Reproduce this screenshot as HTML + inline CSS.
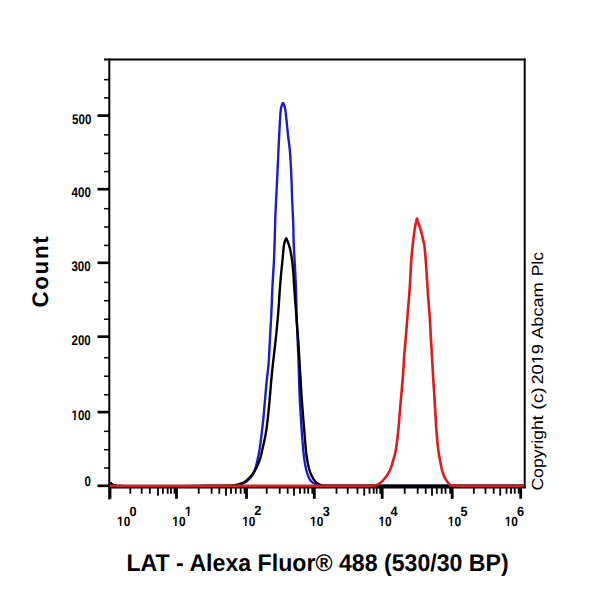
<!DOCTYPE html>
<html><head><meta charset="utf-8"><title>LAT - Alexa Fluor 488 histogram</title>
<style>html,body{margin:0;padding:0;background:#fff;}body{width:600px;height:600px;overflow:hidden;font-family:"Liberation Sans",sans-serif;}svg{display:block;text-rendering:geometricPrecision}</style>
</head><body>
<svg width="600" height="600" viewBox="0 0 600 600"><defs><clipPath id="nf14" clipPathUnits="userSpaceOnUse"><path clip-rule="evenodd" d="M-50,-60H200V20H-50Z M0.00,-2.80H3.25V4.20H0.00Z M5.15,-2.80H7.63V4.20H5.15Z"/></clipPath><clipPath id="nf13_4" clipPathUnits="userSpaceOnUse"><path clip-rule="evenodd" d="M-50,-60H200V20H-50Z M0.00,-2.68H3.11V4.02H0.00Z M4.93,-2.68H7.30V4.02H4.93Z"/></clipPath><clipPath id="nfc3" clipPathUnits="userSpaceOnUse"><path clip-rule="evenodd" d="M-50,-60H200V20H-50Z M18.43,-2.40H21.82V4.80H18.43Z M23.17,-2.40H26.27V4.80H23.17Z"/></clipPath></defs><g stroke="#000" fill="none" stroke-linecap="butt">
<line x1="109.3" y1="58.5" x2="109.3" y2="499.5" stroke-width="2"/>
<line x1="104" y1="59.5" x2="525.7" y2="59.5" stroke-width="2"/>
<line x1="524.7" y1="58.5" x2="524.7" y2="488" stroke-width="2"/>
<line x1="108.3" y1="487.6" x2="525.7" y2="487.6" stroke-width="1.6"/>
<line x1="97.5" y1="485.80" x2="109" y2="485.80" stroke-width="2.7"/>
<line x1="97.5" y1="412.10" x2="109" y2="412.10" stroke-width="2.7"/>
<line x1="97.5" y1="336.70" x2="109" y2="336.70" stroke-width="2.7"/>
<line x1="97.5" y1="262.80" x2="109" y2="262.80" stroke-width="2.7"/>
<line x1="97.5" y1="189.20" x2="109" y2="189.20" stroke-width="2.7"/>
<line x1="97.5" y1="115.60" x2="109" y2="115.60" stroke-width="2.7"/>
<line x1="104" y1="79.65" x2="109" y2="79.65" stroke-width="1.5"/>
<line x1="104" y1="97.90" x2="109" y2="97.90" stroke-width="1.5"/>
<line x1="104" y1="134.90" x2="109" y2="134.90" stroke-width="1.5"/>
<line x1="104" y1="153.40" x2="109" y2="153.40" stroke-width="1.5"/>
<line x1="104" y1="171.60" x2="109" y2="171.60" stroke-width="1.5"/>
<line x1="104" y1="208.70" x2="109" y2="208.70" stroke-width="1.5"/>
<line x1="104" y1="227.00" x2="109" y2="227.00" stroke-width="1.5"/>
<line x1="104" y1="245.40" x2="109" y2="245.40" stroke-width="1.5"/>
<line x1="104" y1="282.40" x2="109" y2="282.40" stroke-width="1.5"/>
<line x1="104" y1="300.70" x2="109" y2="300.70" stroke-width="1.5"/>
<line x1="104" y1="319.20" x2="109" y2="319.20" stroke-width="1.5"/>
<line x1="104" y1="357.70" x2="109" y2="357.70" stroke-width="1.5"/>
<line x1="104" y1="376.20" x2="109" y2="376.20" stroke-width="1.5"/>
<line x1="104" y1="394.80" x2="109" y2="394.80" stroke-width="1.5"/>
<line x1="104" y1="431.30" x2="109" y2="431.30" stroke-width="1.5"/>
<line x1="104" y1="449.70" x2="109" y2="449.70" stroke-width="1.5"/>
<line x1="104" y1="468.00" x2="109" y2="468.00" stroke-width="1.5"/>
<line x1="130.30" y1="487" x2="130.30" y2="493.8" stroke-width="1.8"/>
<line x1="141.70" y1="487" x2="141.70" y2="493.8" stroke-width="1.8"/>
<line x1="149.80" y1="487" x2="149.80" y2="493.8" stroke-width="1.8"/>
<line x1="158.00" y1="487" x2="158.00" y2="495.7" stroke-width="1.8"/>
<line x1="162.90" y1="487" x2="162.90" y2="493.8" stroke-width="1.8"/>
<line x1="167.70" y1="487" x2="167.70" y2="493.8" stroke-width="1.8"/>
<line x1="171.00" y1="487" x2="171.00" y2="493.8" stroke-width="1.8"/>
<line x1="174.50" y1="487" x2="174.50" y2="493.8" stroke-width="1.8"/>
<line x1="198.70" y1="487" x2="198.70" y2="493.8" stroke-width="1.8"/>
<line x1="211.60" y1="487" x2="211.60" y2="493.8" stroke-width="1.8"/>
<line x1="219.30" y1="487" x2="219.30" y2="493.8" stroke-width="1.8"/>
<line x1="226.00" y1="487" x2="226.00" y2="495.7" stroke-width="1.8"/>
<line x1="231.00" y1="487" x2="231.00" y2="493.8" stroke-width="1.8"/>
<line x1="235.80" y1="487" x2="235.80" y2="493.8" stroke-width="1.8"/>
<line x1="240.70" y1="487" x2="240.70" y2="493.8" stroke-width="1.8"/>
<line x1="244.50" y1="487" x2="244.50" y2="493.8" stroke-width="1.8"/>
<line x1="266.70" y1="487" x2="266.70" y2="493.8" stroke-width="1.8"/>
<line x1="279.70" y1="487" x2="279.70" y2="493.8" stroke-width="1.8"/>
<line x1="287.70" y1="487" x2="287.70" y2="493.8" stroke-width="1.8"/>
<line x1="294.00" y1="487" x2="294.00" y2="495.7" stroke-width="1.8"/>
<line x1="300.00" y1="487" x2="300.00" y2="493.8" stroke-width="1.8"/>
<line x1="304.50" y1="487" x2="304.50" y2="493.8" stroke-width="1.8"/>
<line x1="308.20" y1="487" x2="308.20" y2="493.8" stroke-width="1.8"/>
<line x1="312.30" y1="487" x2="312.30" y2="493.8" stroke-width="1.8"/>
<line x1="336.50" y1="487" x2="336.50" y2="493.8" stroke-width="1.8"/>
<line x1="347.70" y1="487" x2="347.70" y2="493.8" stroke-width="1.8"/>
<line x1="357.50" y1="487" x2="357.50" y2="493.8" stroke-width="1.8"/>
<line x1="364.20" y1="487" x2="364.20" y2="495.7" stroke-width="1.8"/>
<line x1="369.50" y1="487" x2="369.50" y2="493.8" stroke-width="1.8"/>
<line x1="373.70" y1="487" x2="373.70" y2="493.8" stroke-width="1.8"/>
<line x1="376.70" y1="487" x2="376.70" y2="493.8" stroke-width="1.8"/>
<line x1="380.20" y1="487" x2="380.20" y2="493.8" stroke-width="1.8"/>
<line x1="404.70" y1="487" x2="404.70" y2="493.8" stroke-width="1.8"/>
<line x1="417.70" y1="487" x2="417.70" y2="493.8" stroke-width="1.8"/>
<line x1="425.70" y1="487" x2="425.70" y2="493.8" stroke-width="1.8"/>
<line x1="432.00" y1="487" x2="432.00" y2="495.7" stroke-width="1.8"/>
<line x1="436.80" y1="487" x2="436.80" y2="493.8" stroke-width="1.8"/>
<line x1="441.70" y1="487" x2="441.70" y2="493.8" stroke-width="1.8"/>
<line x1="445.50" y1="487" x2="445.50" y2="493.8" stroke-width="1.8"/>
<line x1="450.20" y1="487" x2="450.20" y2="493.8" stroke-width="1.8"/>
<line x1="473.80" y1="487" x2="473.80" y2="493.8" stroke-width="1.8"/>
<line x1="485.50" y1="487" x2="485.50" y2="493.8" stroke-width="1.8"/>
<line x1="493.70" y1="487" x2="493.70" y2="493.8" stroke-width="1.8"/>
<line x1="500.20" y1="487" x2="500.20" y2="495.7" stroke-width="1.8"/>
<line x1="506.50" y1="487" x2="506.50" y2="493.8" stroke-width="1.8"/>
<line x1="511.00" y1="487" x2="511.00" y2="493.8" stroke-width="1.8"/>
<line x1="514.70" y1="487" x2="514.70" y2="493.8" stroke-width="1.8"/>
<line x1="518.70" y1="487" x2="518.70" y2="493.8" stroke-width="1.8"/>
<line x1="110.00" y1="487" x2="110.00" y2="498.8" stroke-width="2.8"/>
<line x1="176.50" y1="487" x2="176.50" y2="498.8" stroke-width="2.8"/>
<line x1="246.50" y1="487" x2="246.50" y2="498.8" stroke-width="2.8"/>
<line x1="314.30" y1="487" x2="314.30" y2="498.8" stroke-width="2.8"/>
<line x1="382.20" y1="487" x2="382.20" y2="498.8" stroke-width="2.8"/>
<line x1="452.20" y1="487" x2="452.20" y2="498.8" stroke-width="2.8"/>
<line x1="520.70" y1="487" x2="520.70" y2="498.8" stroke-width="2.8"/>
</g>
<path d="M110.20,482.60 110.48,482.86 110.76,483.12 111.03,483.39 111.30,483.66 111.58,483.92 111.87,484.17 112.17,484.40 112.50,484.60 112.85,484.79 113.18,484.96 113.51,485.11 113.86,485.24 114.27,485.36 114.74,485.48 115.31,485.59 116.00,485.70 123.43,486.20 136.17,486.46 152.52,486.51 170.78,486.42 189.25,486.24 206.25,486.03 220.06,485.83 229.00,485.70 230.46,485.69 231.70,485.70 232.77,485.71 233.70,485.72 234.55,485.71 235.36,485.68 236.16,485.61 237.00,485.50 237.69,485.38 238.35,485.24 238.98,485.08 239.60,484.91 240.20,484.71 240.80,484.49 241.40,484.26 242.00,484.00 242.64,483.71 243.28,483.40 243.91,483.07 244.54,482.71 245.16,482.33 245.78,481.92 246.39,481.48 247.00,481.00 247.73,480.39 248.46,479.72 249.20,479.00 249.93,478.24 250.64,477.46 251.31,476.65 251.93,475.83 252.50,475.00 252.99,474.19 253.43,473.37 253.83,472.53 254.20,471.67 254.54,470.79 254.86,469.88 255.18,468.95 255.50,468.00 255.86,466.85 256.19,465.64 256.51,464.40 256.80,463.13 257.09,461.84 257.36,460.55 257.63,459.27 257.90,458.00 258.16,456.76 258.42,455.54 258.66,454.31 258.90,453.09 259.14,451.85 259.36,450.60 259.58,449.32 259.80,448.00 260.04,446.47 260.26,444.90 260.48,443.30 260.69,441.67 260.89,440.02 261.09,438.36 261.30,436.68 261.50,435.00 261.72,433.19 261.94,431.38 262.15,429.55 262.37,427.70 262.58,425.83 262.79,423.93 262.99,421.99 263.20,420.00 263.43,417.64 263.66,415.20 263.89,412.71 264.11,410.18 264.33,407.63 264.55,405.07 264.78,402.52 265.00,400.00 265.22,397.48 265.45,394.93 265.67,392.37 265.89,389.82 266.11,387.29 266.34,384.80 266.57,382.36 266.80,380.00 267.01,378.03 267.23,376.14 267.46,374.30 267.68,372.48 267.91,370.66 268.12,368.83 268.32,366.95 268.50,365.00 268.68,362.73 268.84,360.40 268.98,358.03 269.11,355.63 269.23,353.21 269.35,350.79 269.47,348.38 269.60,346.00 269.73,343.67 269.86,341.35 269.98,339.02 270.11,336.70 270.23,334.39 270.36,332.08 270.48,329.79 270.60,327.50 270.72,325.30 270.83,323.12 270.95,320.95 271.06,318.79 271.18,316.63 271.29,314.45 271.39,312.24 271.50,310.00 271.61,307.54 271.71,305.03 271.81,302.47 271.90,299.90 272.00,297.35 272.09,294.83 272.19,292.37 272.30,290.00 272.39,288.02 272.49,286.10 272.59,284.22 272.69,282.36 272.79,280.53 272.89,278.70 272.99,276.86 273.10,275.00 273.21,273.14 273.32,271.30 273.44,269.47 273.56,267.64 273.68,265.78 273.79,263.90 273.90,261.98 274.00,260.00 274.11,257.62 274.21,255.14 274.30,252.58 274.39,250.00 274.47,247.42 274.55,244.87 274.63,242.38 274.70,240.00 274.76,238.02 274.81,236.10 274.86,234.22 274.91,232.37 274.95,230.53 275.00,228.70 275.05,226.86 275.10,225.00 275.16,223.12 275.21,221.25 275.27,219.37 275.33,217.50 275.39,215.62 275.45,213.75 275.52,211.87 275.60,210.00 275.69,208.12 275.78,206.25 275.88,204.37 275.99,202.50 276.09,200.62 276.20,198.75 276.30,196.88 276.40,195.00 276.49,193.13 276.58,191.25 276.67,189.38 276.76,187.50 276.84,185.63 276.93,183.75 277.01,181.88 277.10,180.00 277.19,178.12 277.28,176.25 277.36,174.38 277.45,172.50 277.54,170.62 277.62,168.75 277.71,166.88 277.80,165.00 277.89,163.12 277.98,161.25 278.06,159.38 278.15,157.50 278.24,155.62 278.33,153.75 278.41,151.88 278.50,150.00 278.59,148.12 278.67,146.25 278.76,144.37 278.84,142.50 278.93,140.62 279.02,138.75 279.11,136.87 279.20,135.00 279.29,133.10 279.39,131.18 279.48,129.24 279.58,127.31 279.68,125.40 279.78,123.54 279.89,121.73 280.00,120.00 280.09,118.62 280.18,117.25 280.27,115.90 280.36,114.59 280.45,113.33 280.56,112.13 280.67,111.02 280.80,110.00 280.88,109.41 280.97,108.85 281.05,108.33 281.14,107.84 281.23,107.37 281.34,106.91 281.46,106.45 281.60,106.00 281.74,105.56 281.90,105.07 282.08,104.57 282.26,104.09 282.45,103.66 282.63,103.31 282.82,103.08 283.00,103.00 283.18,103.08 283.36,103.31 283.55,103.66 283.73,104.09 283.92,104.57 284.09,105.07 284.25,105.56 284.40,106.00 284.55,106.45 284.68,106.91 284.79,107.37 284.90,107.84 285.00,108.33 285.10,108.85 285.20,109.41 285.30,110.00 285.46,111.02 285.62,112.13 285.77,113.33 285.91,114.59 286.06,115.90 286.20,117.25 286.35,118.62 286.50,120.00 286.68,121.73 286.87,123.54 287.05,125.40 287.23,127.31 287.41,129.24 287.60,131.18 287.80,133.10 288.00,135.00 288.22,136.88 288.45,138.75 288.69,140.62 288.93,142.50 289.17,144.37 289.40,146.25 289.61,148.12 289.80,150.00 289.97,151.87 290.11,153.75 290.25,155.62 290.37,157.50 290.48,159.37 290.59,161.25 290.69,163.12 290.80,165.00 290.90,166.87 291.00,168.75 291.09,170.62 291.18,172.50 291.27,174.37 291.35,176.25 291.42,178.12 291.50,180.00 291.57,181.87 291.64,183.75 291.70,185.62 291.76,187.50 291.81,189.37 291.87,191.25 291.93,193.13 292.00,195.00 292.07,196.88 292.14,198.75 292.21,200.63 292.29,202.50 292.36,204.38 292.44,206.25 292.52,208.13 292.60,210.00 292.69,211.88 292.78,213.75 292.87,215.62 292.97,217.50 293.06,219.37 293.15,221.25 293.23,223.12 293.30,225.00 293.35,226.87 293.39,228.75 293.42,230.62 293.45,232.50 293.48,234.38 293.51,236.25 293.55,238.13 293.60,240.00 293.67,241.88 293.74,243.75 293.83,245.63 293.92,247.50 294.01,249.38 294.11,251.25 294.20,253.13 294.30,255.00 294.40,256.86 294.49,258.70 294.59,260.53 294.69,262.37 294.80,264.22 294.90,266.10 295.00,268.02 295.10,270.00 295.22,272.36 295.34,274.80 295.46,277.29 295.58,279.82 295.69,282.37 295.80,284.93 295.91,287.48 296.00,290.00 296.08,292.51 296.15,295.03 296.21,297.56 296.27,300.08 296.32,302.60 296.37,305.09 296.43,307.56 296.50,310.00 296.57,312.24 296.64,314.45 296.71,316.63 296.78,318.79 296.86,320.95 296.93,323.12 297.02,325.30 297.10,327.50 297.19,329.77 297.29,332.03 297.39,334.29 297.49,336.57 297.59,338.86 297.70,341.19 297.80,343.57 297.90,346.00 298.01,348.85 298.13,351.77 298.24,354.75 298.36,357.77 298.47,360.83 298.58,363.89 298.69,366.96 298.80,370.00 298.90,373.10 298.99,376.21 299.08,379.34 299.17,382.47 299.26,385.60 299.36,388.74 299.47,391.87 299.60,395.00 299.75,398.14 299.90,401.32 300.07,404.50 300.25,407.68 300.44,410.83 300.62,413.95 300.81,417.01 301.00,420.00 301.17,422.63 301.33,425.23 301.50,427.79 301.68,430.32 301.85,432.81 302.03,435.26 302.21,437.65 302.40,440.00 302.56,442.00 302.73,443.97 302.90,445.92 303.07,447.83 303.24,449.69 303.42,451.52 303.61,453.29 303.80,455.00 303.96,456.37 304.13,457.73 304.30,459.05 304.48,460.35 304.65,461.60 304.83,462.79 305.02,463.93 305.20,465.00 305.33,465.71 305.46,466.38 305.59,467.01 305.72,467.61 305.86,468.21 306.00,468.79 306.14,469.39 306.30,470.00 306.46,470.63 306.63,471.26 306.80,471.89 306.97,472.51 307.16,473.14 307.36,473.76 307.57,474.38 307.80,475.00 308.05,475.64 308.31,476.30 308.58,476.96 308.86,477.62 309.16,478.26 309.48,478.88 309.83,479.46 310.20,480.00 310.55,480.45 310.93,480.87 311.32,481.27 311.72,481.65 312.14,482.01 312.58,482.36 313.03,482.69 313.50,483.00 314.01,483.32 314.55,483.62 315.11,483.90 315.69,484.16 316.27,484.40 316.86,484.63 317.43,484.83 318.00,485.00 318.49,485.13 318.97,485.24 319.44,485.33 319.92,485.40 320.40,485.46 320.90,485.51 321.43,485.55 322.00,485.60 322.79,485.65 323.56,485.69 324.33,485.70 325.16,485.71 326.10,485.70 327.19,485.70 328.47,485.70 330.00,485.70 341.93,485.74 360.37,485.76 383.82,485.76 410.78,485.75 439.73,485.74 469.19,485.72 497.65,485.71 523.60,485.70" stroke="#1c1cc8" stroke-width="2.4" fill="none" stroke-linejoin="round"/>
<path d="M110.20,482.60 110.48,482.86 110.76,483.12 111.03,483.39 111.30,483.66 111.58,483.92 111.87,484.17 112.17,484.40 112.50,484.60 112.85,484.79 113.18,484.96 113.52,485.11 113.87,485.24 114.27,485.36 114.75,485.48 115.31,485.59 116.00,485.70 122.81,486.17 134.31,486.39 149.01,486.41 165.39,486.31 181.98,486.13 197.28,485.93 209.78,485.77 218.00,485.70 219.43,485.70 220.65,485.71 221.68,485.72 222.60,485.73 223.44,485.73 224.25,485.73 225.09,485.72 226.00,485.70 226.90,485.68 227.79,485.65 228.67,485.62 229.55,485.58 230.42,485.54 231.28,485.48 232.14,485.40 233.00,485.30 233.83,485.19 234.65,485.08 235.48,484.95 236.29,484.81 237.10,484.64 237.91,484.46 238.71,484.25 239.50,484.00 240.31,483.72 241.12,483.42 241.93,483.10 242.72,482.75 243.51,482.37 244.29,481.95 245.05,481.50 245.80,481.00 246.61,480.39 247.40,479.72 248.19,479.00 248.95,478.24 249.70,477.45 250.43,476.64 251.13,475.82 251.80,475.00 252.44,474.19 253.05,473.36 253.63,472.53 254.20,471.67 254.74,470.79 255.27,469.89 255.79,468.96 256.30,468.00 256.87,466.86 257.42,465.66 257.96,464.42 258.47,463.15 258.97,461.86 259.44,460.57 259.88,459.28 260.30,458.00 260.67,456.77 261.00,455.55 261.31,454.33 261.59,453.10 261.86,451.86 262.13,450.60 262.41,449.32 262.70,448.00 263.05,446.46 263.41,444.90 263.78,443.30 264.15,441.67 264.51,440.03 264.85,438.36 265.19,436.69 265.50,435.00 265.81,433.20 266.10,431.38 266.37,429.56 266.63,427.71 266.88,425.84 267.12,423.93 267.36,421.99 267.60,420.00 267.87,417.64 268.14,415.21 268.40,412.71 268.65,410.18 268.89,407.63 269.13,405.07 269.37,402.52 269.60,400.00 269.83,397.48 270.05,394.93 270.26,392.37 270.47,389.82 270.67,387.29 270.88,384.80 271.09,382.36 271.30,380.00 271.48,378.03 271.66,376.14 271.84,374.29 272.02,372.47 272.21,370.66 272.39,368.82 272.59,366.94 272.80,365.00 273.05,362.73 273.32,360.40 273.60,358.03 273.88,355.62 274.17,353.21 274.46,350.79 274.73,348.38 275.00,346.00 275.25,343.68 275.50,341.36 275.75,339.05 275.99,336.74 276.22,334.43 276.45,332.12 276.68,329.81 276.90,327.50 277.12,325.19 277.33,322.88 277.54,320.57 277.74,318.27 277.94,315.96 278.13,313.64 278.32,311.33 278.50,309.00 278.68,306.62 278.85,304.22 279.01,301.80 279.17,299.38 279.32,296.97 279.48,294.60 279.64,292.27 279.80,290.00 279.95,288.04 280.09,286.12 280.23,284.24 280.38,282.39 280.53,280.55 280.68,278.71 280.84,276.86 281.00,275.00 281.17,273.12 281.35,271.25 281.54,269.37 281.73,267.50 281.92,265.62 282.12,263.75 282.31,261.87 282.50,260.00 282.68,258.06 282.86,256.04 283.03,253.98 283.20,251.95 283.38,249.97 283.57,248.13 283.77,246.45 284.00,245.00 284.14,244.29 284.28,243.64 284.42,243.03 284.57,242.47 284.72,241.94 284.88,241.43 285.04,240.96 285.20,240.50 285.32,240.17 285.44,239.81 285.56,239.46 285.69,239.13 285.81,238.84 285.94,238.61 286.07,238.46 286.33,238.45 286.47,238.61 286.60,238.84 286.74,239.13 286.88,239.46 287.02,239.81 287.16,240.17 287.30,240.50 287.50,240.98 287.70,241.49 287.91,242.04 288.11,242.62 288.32,243.21 288.52,243.81 288.71,244.41 288.90,245.00 289.09,245.60 289.27,246.19 289.45,246.77 289.63,247.37 289.80,247.98 289.97,248.62 290.13,249.29 290.30,250.00 290.53,251.08 290.76,252.25 290.99,253.49 291.21,254.78 291.42,256.09 291.62,257.41 291.82,258.72 292.00,260.00 292.17,261.22 292.32,262.42 292.46,263.60 292.60,264.78 292.72,265.99 292.85,267.26 292.97,268.58 293.10,270.00 293.28,272.17 293.44,274.52 293.60,277.00 293.76,279.57 293.91,282.20 294.07,284.84 294.23,287.45 294.40,290.00 294.58,292.51 294.76,295.03 294.95,297.56 295.14,300.08 295.34,302.60 295.53,305.09 295.72,307.56 295.90,310.00 296.07,312.24 296.23,314.45 296.39,316.63 296.55,318.79 296.71,320.95 296.87,323.12 297.04,325.30 297.20,327.50 297.37,329.77 297.55,332.03 297.73,334.29 297.91,336.57 298.08,338.86 298.26,341.19 298.43,343.57 298.60,346.00 298.78,348.85 298.96,351.77 299.14,354.75 299.31,357.77 299.48,360.83 299.65,363.89 299.82,366.96 300.00,370.00 300.18,373.09 300.36,376.16 300.53,379.24 300.71,382.33 300.89,385.44 301.08,388.58 301.28,391.76 301.50,395.00 301.75,398.62 302.02,402.31 302.29,406.05 302.58,409.83 302.88,413.63 303.18,417.44 303.49,421.23 303.80,425.00 304.12,428.86 304.44,432.88 304.77,436.96 305.11,441.01 305.45,444.93 305.80,448.64 306.15,452.02 306.50,455.00 306.71,456.53 306.91,457.96 307.12,459.30 307.34,460.56 307.55,461.75 307.76,462.87 307.98,463.95 308.20,465.00 308.36,465.71 308.51,466.38 308.66,467.01 308.82,467.62 308.97,468.21 309.14,468.80 309.31,469.39 309.50,470.00 309.70,470.63 309.89,471.26 310.10,471.89 310.31,472.52 310.53,473.14 310.77,473.77 311.03,474.39 311.30,475.00 311.61,475.65 311.94,476.30 312.29,476.96 312.66,477.61 313.03,478.25 313.42,478.87 313.81,479.45 314.20,480.00 314.53,480.44 314.85,480.85 315.18,481.25 315.52,481.64 315.86,482.00 316.22,482.35 316.60,482.68 317.00,483.00 317.44,483.31 317.91,483.61 318.39,483.89 318.89,484.15 319.40,484.40 319.93,484.62 320.46,484.82 321.00,485.00 321.58,485.16 322.17,485.29 322.77,485.40 323.38,485.48 324.00,485.55 324.65,485.60 325.31,485.65 326.00,485.70 326.84,485.75 327.62,485.77 328.40,485.77 329.22,485.76 330.14,485.74 331.21,485.72 332.48,485.71 334.00,485.70 345.74,485.70 363.82,485.70 386.79,485.70 413.18,485.70 441.52,485.70 470.34,485.70 498.19,485.70 523.60,485.70" stroke="#000" stroke-width="2.4" fill="none" stroke-linejoin="round"/>
<path d="M110.00,485.70 144.18,485.70 181.82,485.70 220.84,485.70 259.18,485.70 294.74,485.70 325.45,485.70 349.23,485.70 364.00,485.70 365.55,485.71 366.85,485.73 367.94,485.75 368.87,485.77 369.70,485.78 370.46,485.78 371.21,485.75 372.00,485.70 372.57,485.65 373.10,485.59 373.61,485.53 374.10,485.46 374.58,485.37 375.05,485.27 375.52,485.15 376.00,485.00 376.51,484.82 377.01,484.63 377.52,484.42 378.01,484.19 378.51,483.94 379.01,483.65 379.50,483.34 380.00,483.00 380.63,482.52 381.27,481.99 381.90,481.41 382.54,480.78 383.17,480.13 383.79,479.44 384.41,478.73 385.00,478.00 385.68,477.12 386.35,476.20 387.02,475.24 387.67,474.24 388.30,473.21 388.90,472.16 389.47,471.08 390.00,470.00 390.52,468.83 390.99,467.61 391.42,466.37 391.83,465.11 392.21,463.83 392.58,462.54 392.94,461.27 393.30,460.00 393.65,458.78 393.99,457.59 394.32,456.42 394.63,455.23 394.94,454.02 395.23,452.75 395.52,451.42 395.80,450.00 396.17,447.84 396.53,445.49 396.86,443.02 397.17,440.44 397.47,437.81 397.76,435.17 398.03,432.55 398.30,430.00 398.55,427.48 398.79,424.94 399.01,422.38 399.21,419.82 399.41,417.29 399.61,414.80 399.80,412.36 400.00,410.00 400.17,408.04 400.33,406.15 400.49,404.31 400.65,402.50 400.81,400.69 400.97,398.85 401.13,396.96 401.30,395.00 401.51,392.64 401.72,390.20 401.94,387.71 402.16,385.18 402.38,382.63 402.60,380.07 402.81,377.52 403.00,375.00 403.18,372.50 403.34,370.00 403.50,367.50 403.65,365.00 403.80,362.50 403.96,360.00 404.12,357.50 404.30,355.00 404.50,352.47 404.71,349.92 404.93,347.34 405.15,344.78 405.38,342.24 405.60,339.75 405.80,337.33 406.00,335.00 406.15,333.14 406.29,331.37 406.43,329.65 406.56,327.97 406.69,326.28 406.82,324.58 406.96,322.83 407.10,321.00 407.28,318.81 407.46,316.54 407.65,314.23 407.84,311.88 408.04,309.51 408.23,307.15 408.42,304.81 408.60,302.50 408.77,300.27 408.95,298.03 409.12,295.79 409.29,293.56 409.46,291.35 409.62,289.18 409.76,287.06 409.90,285.00 410.01,283.28 410.10,281.60 410.19,279.96 410.27,278.35 410.35,276.75 410.43,275.17 410.51,273.59 410.60,272.00 410.69,270.46 410.77,268.91 410.85,267.36 410.94,265.82 411.02,264.30 411.11,262.82 411.20,261.38 411.30,260.00 411.38,258.92 411.46,257.89 411.55,256.90 411.63,255.92 411.72,254.95 411.81,253.99 411.90,253.00 412.00,252.00 412.10,250.93 412.21,249.85 412.32,248.75 412.43,247.66 412.55,246.56 412.66,245.47 412.78,244.38 412.90,243.30 413.02,242.25 413.14,241.21 413.26,240.17 413.38,239.14 413.51,238.10 413.63,237.07 413.76,236.04 413.90,235.00 414.04,233.95 414.18,232.88 414.32,231.80 414.47,230.73 414.62,229.67 414.77,228.64 414.93,227.64 415.10,226.70 415.24,225.98 415.39,225.28 415.55,224.59 415.71,223.93 415.86,223.28 416.02,222.66 416.16,222.07 416.30,221.50 416.39,221.06 416.48,220.58 416.57,220.10 416.65,219.64 416.73,219.23 416.82,218.90 416.90,218.68 417.20,218.89 417.31,219.22 417.41,219.63 417.53,220.10 417.64,220.58 417.77,221.06 417.90,221.50 418.09,222.07 418.30,222.67 418.53,223.30 418.76,223.95 419.00,224.62 419.23,225.30 419.47,226.00 419.70,226.70 419.97,227.55 420.24,228.43 420.51,229.34 420.78,230.26 421.04,231.19 421.30,232.13 421.56,233.07 421.80,234.00 422.04,234.95 422.27,235.93 422.50,236.93 422.72,237.92 422.93,238.89 423.13,239.82 423.32,240.70 423.50,241.50 423.62,241.99 423.73,242.44 423.83,242.86 423.93,243.26 424.03,243.66 424.12,244.07 424.21,244.52 424.30,245.00 424.41,245.73 424.51,246.50 424.60,247.32 424.68,248.17 424.76,249.04 424.84,249.92 424.92,250.81 425.00,251.70 425.09,252.69 425.18,253.71 425.27,254.75 425.36,255.79 425.45,256.85 425.53,257.90 425.62,258.96 425.70,260.00 425.78,261.02 425.85,262.01 425.93,263.00 426.00,263.99 426.07,264.99 426.14,266.04 426.22,267.14 426.30,268.30 426.42,270.05 426.54,271.97 426.67,274.00 426.80,276.10 426.93,278.19 427.06,280.25 427.19,282.20 427.30,284.00 427.38,285.28 427.46,286.50 427.53,287.67 427.60,288.80 427.67,289.92 427.75,291.04 427.82,292.16 427.90,293.30 427.98,294.43 428.06,295.53 428.14,296.61 428.23,297.70 428.32,298.82 428.41,299.98 428.50,301.20 428.60,302.50 428.76,304.52 428.93,306.74 429.12,309.08 429.31,311.51 429.50,313.97 429.68,316.41 429.85,318.77 430.00,321.00 430.11,322.83 430.20,324.58 430.29,326.28 430.36,327.97 430.44,329.65 430.52,331.37 430.60,333.14 430.70,335.00 430.83,337.33 430.97,339.75 431.13,342.24 431.28,344.78 431.44,347.34 431.60,349.92 431.75,352.48 431.90,355.00 432.04,357.50 432.18,360.00 432.31,362.50 432.44,365.00 432.58,367.50 432.71,370.00 432.85,372.50 433.00,375.00 433.15,377.50 433.31,380.00 433.48,382.50 433.64,385.00 433.81,387.50 433.98,390.00 434.14,392.50 434.30,395.00 434.46,397.52 434.61,400.07 434.76,402.63 434.92,405.18 435.07,407.71 435.21,410.20 435.36,412.64 435.50,415.00 435.61,416.96 435.72,418.85 435.82,420.69 435.91,422.50 436.02,424.31 436.13,426.15 436.26,428.04 436.40,430.00 436.59,432.41 436.80,434.96 437.02,437.60 437.26,440.26 437.50,442.88 437.76,445.42 438.03,447.81 438.30,450.00 438.50,451.42 438.70,452.75 438.90,454.01 439.11,455.22 439.33,456.41 439.55,457.58 439.77,458.78 440.00,460.00 440.23,461.26 440.45,462.53 440.67,463.81 440.90,465.08 441.14,466.35 441.40,467.59 441.68,468.81 442.00,470.00 442.31,471.07 442.65,472.13 443.00,473.18 443.37,474.21 443.75,475.21 444.15,476.18 444.57,477.11 445.00,478.00 445.38,478.72 445.80,479.41 446.22,480.09 446.66,480.75 447.10,481.37 447.52,481.95 447.92,482.50 448.30,483.00 448.53,483.31 448.74,483.60 448.94,483.88 449.14,484.15 449.34,484.39 449.55,484.61 449.76,484.82 450.00,485.00 450.22,485.14 450.43,485.26 450.65,485.36 450.88,485.44 451.12,485.52 451.39,485.58 451.68,485.64 452.00,485.70 452.69,485.79 453.44,485.83 454.27,485.83 455.18,485.81 456.20,485.78 457.34,485.74 458.60,485.71 460.00,485.70 465.05,485.70 471.64,485.70 479.41,485.70 488.01,485.70 497.09,485.70 506.28,485.70 515.24,485.70 523.60,485.70" stroke="#e01a1a" stroke-width="2.6" fill="none" stroke-linejoin="round"/>
<text transform="translate(72.09,124.06) scale(0.8250,1.0000)" font-family="Liberation Sans" font-weight="bold" font-size="14" fill="#000">500</text>
<text transform="translate(71.53,197.30) scale(0.8250,1.0000)" font-family="Liberation Sans" font-weight="bold" font-size="14" fill="#000">400</text>
<text transform="translate(71.43,271.04) scale(0.8250,1.0000)" font-family="Liberation Sans" font-weight="bold" font-size="14" fill="#000">300</text>
<text transform="translate(71.49,344.50) scale(0.8250,1.0000)" font-family="Liberation Sans" font-weight="bold" font-size="14" fill="#000">200</text>
<text transform="translate(71.46,420.10) scale(0.8250,1.0000)" font-family="Liberation Sans" font-weight="bold" font-size="14" clip-path="url(#nf14)" fill="#000">100</text>
<text transform="translate(84.42,485.64) scale(0.8250,1.0000)" font-family="Liberation Sans" font-weight="bold" font-size="14" fill="#000">0</text>
<text transform="translate(117.01,526.16) scale(0.8900,1.0000)" font-family="Liberation Sans" font-weight="bold" font-size="13.4" clip-path="url(#nf13_4)" fill="#000">10</text>
<text transform="translate(129.54,515.86) scale(0.9500,1.0000)" font-family="Liberation Sans" font-weight="bold" font-size="13.4" fill="#000">0</text>
<text transform="translate(172.29,525.72) scale(0.8900,1.0000)" font-family="Liberation Sans" font-weight="bold" font-size="13.4" clip-path="url(#nf13_4)" fill="#000">10</text>
<text transform="translate(184.82,515.84) scale(0.9500,1.0000)" font-family="Liberation Sans" font-weight="bold" font-size="13.4" clip-path="url(#nf13_4)" fill="#000">1</text>
<text transform="translate(242.22,525.76) scale(0.8900,1.0000)" font-family="Liberation Sans" font-weight="bold" font-size="13.4" clip-path="url(#nf13_4)" fill="#000">10</text>
<text transform="translate(254.28,515.21) scale(0.9500,1.0000)" font-family="Liberation Sans" font-weight="bold" font-size="13.4" fill="#000">2</text>
<text transform="translate(310.01,526.16) scale(0.8900,1.0000)" font-family="Liberation Sans" font-weight="bold" font-size="13.4" clip-path="url(#nf13_4)" fill="#000">10</text>
<text transform="translate(322.82,515.90) scale(0.9500,1.0000)" font-family="Liberation Sans" font-weight="bold" font-size="13.4" fill="#000">3</text>
<text transform="translate(378.49,525.61) scale(0.8900,1.0000)" font-family="Liberation Sans" font-weight="bold" font-size="13.4" clip-path="url(#nf13_4)" fill="#000">10</text>
<text transform="translate(390.40,515.99) scale(0.9500,1.0000)" font-family="Liberation Sans" font-weight="bold" font-size="13.4" fill="#000">4</text>
<text transform="translate(447.82,525.68) scale(0.8900,1.0000)" font-family="Liberation Sans" font-weight="bold" font-size="13.4" clip-path="url(#nf13_4)" fill="#000">10</text>
<text transform="translate(460.46,515.61) scale(0.9500,1.0000)" font-family="Liberation Sans" font-weight="bold" font-size="13.4" fill="#000">5</text>
<text transform="translate(504.74,525.89) scale(0.8900,1.0000)" font-family="Liberation Sans" font-weight="bold" font-size="13.4" clip-path="url(#nf13_4)" fill="#000">10</text>
<text transform="translate(516.96,515.56) scale(0.9500,1.0000)" font-family="Liberation Sans" font-weight="bold" font-size="13.4" fill="#000">6</text>
<text transform="translate(48.33,307.54) scale(0.9800,0.9700) rotate(-90)" font-family="Liberation Sans" font-weight="bold" font-size="23" letter-spacing="1.75" fill="#000">Count</text>
<text transform="translate(126.41,571.27) scale(1.0062,1.0501)" font-family="Liberation Sans" font-weight="bold" font-size="23" fill="#000">LAT - Alexa Fluor® 488 (530/30 BP)</text>
<text transform="translate(543.20,490.59) scale(1.0000,1.0992) rotate(-90)" font-family="Liberation Sans" font-weight="normal" font-size="16" fill="#000">Copyright</text>
<text transform="translate(543.20,409.84) scale(1.0000,1.2162) rotate(-90)" font-family="Liberation Sans" font-weight="normal" font-size="16" fill="#000">(c)</text>
<text transform="translate(543.20,384.57) scale(1.0000,1.1355) rotate(-90)" font-family="Liberation Sans" font-weight="normal" font-size="16" clip-path="url(#nfc3)" fill="#000">2019</text>
<text transform="translate(543.20,338.84) scale(1.0000,1.1370) rotate(-90)" font-family="Liberation Sans" font-weight="normal" font-size="16" fill="#000">Abcam</text>
<text transform="translate(543.20,276.36) scale(1.0000,1.0890) rotate(-90)" font-family="Liberation Sans" font-weight="normal" font-size="16" fill="#000">Plc</text></svg>
</body></html>
